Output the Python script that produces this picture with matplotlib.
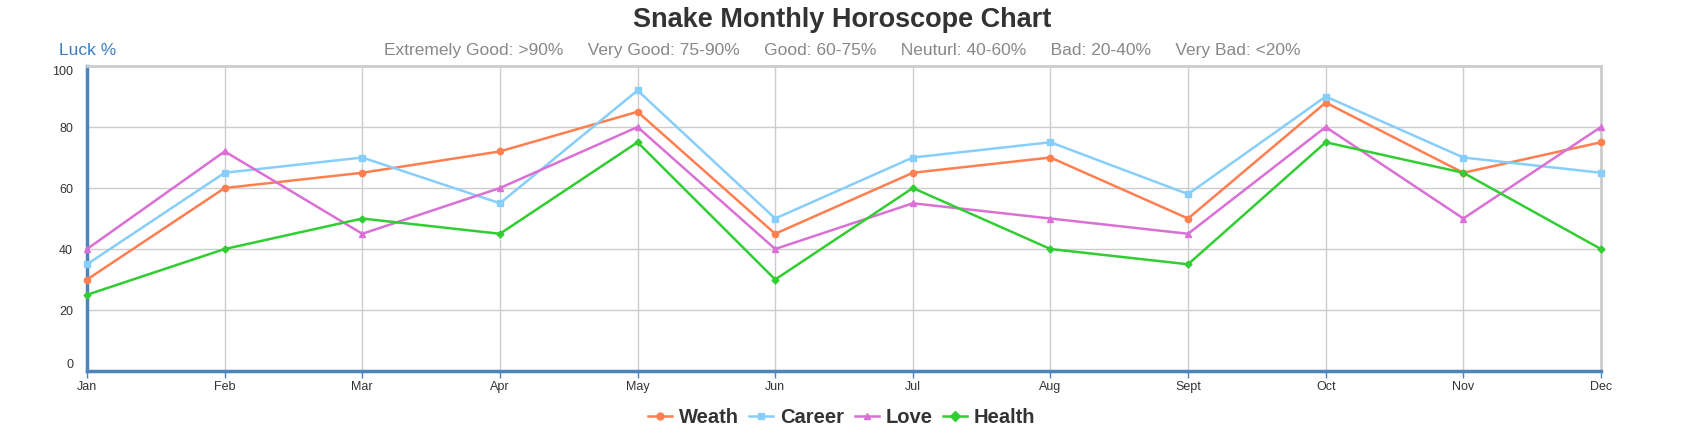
import matplotlib.pyplot as plt
from matplotlib.lines import Line2D

plt.rcParams['font.family'] = ['Liberation Sans', 'DejaVu Sans']

# données
months = ["Jan", "Feb", "Mar", "Apr", "May", "Jun", "Jul", "Aug", "Sept", "Oct", "Nov", "Dec"]
wealth = [30, 60, 65, 72, 85, 45, 65, 70, 50, 88, 65, 75]
career = [35, 65, 70, 55, 92, 50, 70, 75, 58, 90, 70, 65]
love = [40, 72, 45, 60, 80, 40, 55, 50, 45, 80, 50, 80]
health = [25, 40, 50, 45, 75, 30, 60, 40, 35, 75, 65, 40]

series = [
    ("Weath", wealth, "#ff7f50", "o"),
    ("Career", career, "#87cefa", "s"),
    ("Love", love, "#da70d6", "^"),
    ("Health", health, "#32cd32", "D"),
]

fig = plt.figure(figsize=(16.87, 4.36), dpi=100)
ax = fig.add_axes([0.0516, 0.149, 0.8974, 0.6996])

x = list(range(len(months)))
for name, vals, color, marker in series:
    ms = 4.5 if marker != "D" else 3.5
    ax.plot(x, vals, color=color, marker=marker, markersize=ms, linewidth=1.8,
            label=name, clip_on=False, zorder=3)

ax.set_xlim(0, len(months) - 1)
ax.set_ylim(0, 100)
ax.set_xticks(x)
ax.set_xticklabels(months)
ax.set_yticks([0, 20, 40, 60, 80, 100])

ax.grid(True, color="#cccccc", linewidth=1)
ax.set_axisbelow(True)

for side in ("top", "right"):
    ax.spines[side].set_color("#cccccc")
    ax.spines[side].set_linewidth(2)
for side in ("left", "bottom"):
    ax.spines[side].set_color("#4a86bd")
    ax.spines[side].set_linewidth(2.5)

ax.tick_params(axis="x", length=5, width=1, color="#4a86bd", labelsize=9, labelcolor="#333333", pad=2)
ax.tick_params(axis="y", length=0, labelsize=9, labelcolor="#333333", pad=10)

# étiquettes extrêmes décalées vers l'intérieur
ylabels = ax.get_yticklabels()
ylabels[0].set_va("bottom")
ylabels[-1].set_va("top")

fig.text(0.499, 0.953, "Snake Monthly Horoscope Chart", ha="center", va="center",
         fontsize=19.5, fontweight="bold", color="#333333")
fig.text(0.499, 0.884,
         "Extremely Good: >90%     Very Good: 75-90%     Good: 60-75%     "
         "Neuturl: 40-60%     Bad: 20-40%     Very Bad: <20%",
         ha="center", va="center", fontsize=12.5, color="#888888")
fig.text(0.035, 0.884, "Luck %", ha="left", va="center", fontsize=12.5, color="#3a7fc0")

handles = [Line2D([], [], color=c, marker=m, markersize=5, linewidth=1.8)
           for _, _, c, m in series]
leg = fig.legend(handles, [s[0] for s in series], loc="center", bbox_to_anchor=(0.499, 0.043),
                 ncol=4, frameon=False, handlelength=1.2, handletextpad=0.35, columnspacing=0.5,
                 prop={"size": 14.5, "weight": "bold"})
for t in leg.get_texts():
    t.set_color("#333333")

fig.savefig("out.png", dpi=100)
